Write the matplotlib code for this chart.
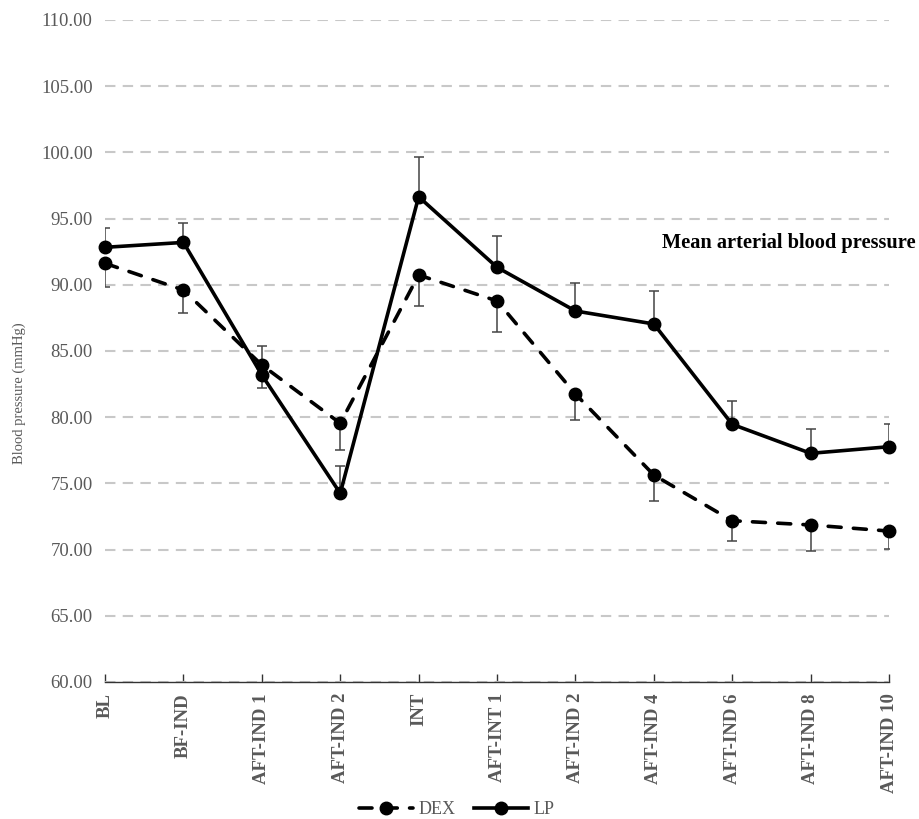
import matplotlib
matplotlib.use('Agg')
import matplotlib.pyplot as plt

plt.rcParams['font.family'] = ['Liberation Serif', 'DejaVu Serif']

timepoints = ['BL', 'BF-IND', 'AFT-IND 1', 'AFT-IND 2', 'INT', 'AFT-INT 1',
              'AFT-IND 2', 'AFT-IND 4', 'AFT-IND 6', 'AFT-IND 8', 'AFT-IND 10']
lp_mean = [92.83, 93.20, 83.19, 74.25, 96.65, 91.32, 88.02, 87.04, 79.46, 77.27, 77.77]
lp_err = [1.47, 1.50, 2.19, 2.05, 2.98, 2.39, 2.14, 2.51, 1.79, 1.82, 1.72]
dex_mean = [91.62, 89.60, 83.94, 79.54, 90.74, 88.78, 81.75, 75.63, 72.18, 71.86, 71.40]
dex_err = [1.82, 1.70, 1.76, 2.04, 2.34, 2.37, 1.96, 1.96, 1.53, 1.97, 1.35]
yticks = [60, 65, 70, 75, 80, 85, 90, 95, 100, 105, 110]

grey = '#595959'
x = list(range(len(timepoints)))

fig = plt.figure(figsize=(9.19, 8.19), dpi=100)
ax = fig.add_axes([0.1143, 0.1673, 0.8531, 0.8083])

# error bars: LP upward only, DEX downward only
ax.errorbar(x, lp_mean, yerr=[[0] * len(x), lp_err], fmt='none',
            ecolor='#444444', elinewidth=1.1, capsize=3.6, capthick=1.1, zorder=2)
ax.errorbar(x, dex_mean, yerr=[dex_err, [0] * len(x)], fmt='none',
            ecolor='#444444', elinewidth=1.1, capsize=3.6, capthick=1.1, zorder=2)

dex_line, = ax.plot(x, dex_mean, color='black', lw=2.6, linestyle=(0, (3.6, 3.4)),
                    dash_capstyle='round', marker='o', markersize=9,
                    label='DEX', zorder=3, clip_on=False)
lp_line, = ax.plot(x, lp_mean, color='black', lw=2.6, marker='o', markersize=9,
                   label='LP', zorder=4, clip_on=False)

ax.set_xlim(0, len(x) - 1)
ax.set_ylim(60, 110)
ax.set_yticks(yticks)
ax.set_yticklabels(['%.2f' % v for v in yticks], color=grey, fontsize=13.5)
ax.yaxis.grid(True, color='#c8c8c8', linestyle=(0, (5, 3.5)), linewidth=1.5)
ax.set_axisbelow(True)
ax.tick_params(axis='y', length=0, pad=9)

ax.set_xticks(x)
ax.set_xticklabels(timepoints, rotation=90, fontweight='bold', color=grey, fontsize=13.5)
ax.tick_params(axis='x', direction='in', length=6, width=1, color='#333333', pad=8)

for s in ['top', 'right', 'left']:
    ax.spines[s].set_visible(False)
ax.spines['bottom'].set_color('#333333')
ax.spines['bottom'].set_linewidth(1)

fig.text(0.021, 0.52, 'Blood pressure (mmHg)', rotation=90, va='center', ha='center',
         color=grey, fontsize=10.5)
fig.text(0.996, 0.703, 'Mean arterial blood pressure', ha='right', va='center',
         fontweight='bold', fontsize=14.7, color='black')

fig.legend(handles=[dex_line, lp_line], loc='center', bbox_to_anchor=(0.497, 0.011),
           ncol=2, frameon=False, fontsize=13, handlelength=3.0, columnspacing=1.0,
           handletextpad=0.3, labelcolor=grey)

fig.savefig('out.png', dpi=100)
